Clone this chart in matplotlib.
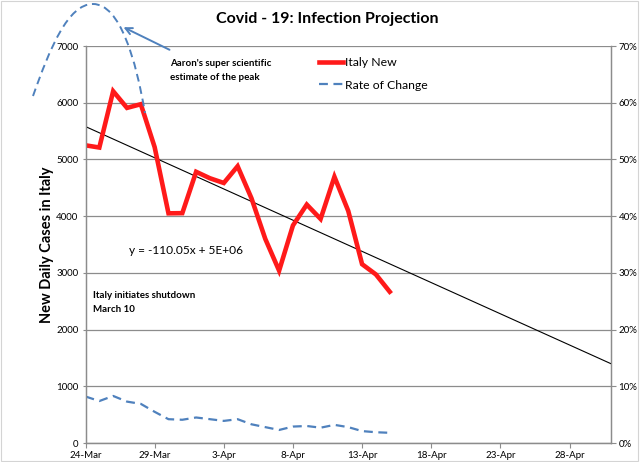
import numpy as np
import pandas as pd
import matplotlib
matplotlib.use("Agg")
import matplotlib.pyplot as plt
import matplotlib.dates as mdates
from matplotlib.path import Path
from matplotlib.patches import PathPatch, Rectangle
from matplotlib.ticker import FuncFormatter, MultipleLocator

plt.rcParams['font.family'] = ['Lato', 'DejaVu Sans']

# data
dates = pd.date_range('2020-03-24', '2020-04-15')
italy_new = [5249, 5210, 6203, 5909, 5974, 5217, 4050, 4053, 4782, 4668, 4585, 4880,
             4316, 3599, 3039, 3836, 4204, 3951, 4694, 4092, 3153, 2972, 2667]
rate_change = [0.082, 0.074, 0.083, 0.073, 0.069, 0.055, 0.042, 0.041, 0.045, 0.042, 0.039, 0.042,
               0.033, 0.028, 0.023, 0.029, 0.030, 0.027, 0.032, 0.028, 0.021, 0.019, 0.018]
trend_slope = -110.05   # from the equation printed on the chart
trend_start = 5580      # trend value read at 24-Mar
tick_dates = pd.date_range('2020-03-24', '2020-04-28', freq='5D')
x_end = pd.Timestamp('2020-05-01')

RED = '#ff1a1a'
BLUE = '#4f81bd'
GRID = '#8c8c8c'


def px(x, y):
    # pixel position on the 640x462 canvas -> figure fraction
    return (x / 640, 1 - y / 462)


fig = plt.figure(figsize=(6.4, 4.62), dpi=100)
ax = fig.add_axes([0.1336, 0.0411, 0.8211, 0.8593])
ax2 = ax.twinx()

xnum = mdates.date2num(dates)
ax.plot(xnum, italy_new, color=RED, lw=3.3, solid_joinstyle='miter', label='Italy New', zorder=4)
ax2.plot(xnum, rate_change, color=BLUE, lw=1.6, dashes=(4, 2.5), label='Rate of Change')

# linear trend, forecast to the end of the axis
tx = np.array([xnum[0], mdates.date2num(x_end)])
ax.plot(tx, trend_start + trend_slope * (tx - xnum[0]), color='black', lw=0.8, zorder=3)

ax.set_xlim(xnum[0], mdates.date2num(x_end))
ax.set_ylim(0, 7000)
ax2.set_ylim(0, 0.7)
ax.yaxis.set_major_locator(MultipleLocator(1000))
ax2.yaxis.set_major_locator(MultipleLocator(0.1))
ax2.yaxis.set_major_formatter(FuncFormatter(lambda v, p: f"{v * 100:.0f}%"))
ax.set_xticks(mdates.date2num(tick_dates))
ax.xaxis.set_major_formatter(FuncFormatter(
    lambda v, p: f"{mdates.num2date(v).day}-{mdates.num2date(v):%b}"))

ax.grid(axis='y', color=GRID, lw=0.9)
ax.set_axisbelow(True)
for a in (ax, ax2):
    a.spines['top'].set_visible(False)
    for s in ('left', 'right', 'bottom'):
        a.spines[s].set_color(GRID)
        a.spines[s].set_linewidth(0.9)
    a.tick_params(labelsize=7, color=GRID, length=3.5, pad=2)
ax.tick_params(axis='y', length=2, pad=3)
ax.set_ylabel('New Daily Cases in Italy', fontsize=10.5, fontweight='bold', labelpad=2)

fig.suptitle('Covid - 19: Infection Projection', x=0.5115, y=0.975, fontsize=11.5, fontweight='bold')

h1, l1 = ax.get_legend_handles_labels()
h2, l2 = ax2.get_legend_handles_labels()
fig.legend(h1 + h2, l1 + l2, loc='upper left', bbox_to_anchor=px(308, 46), frameon=False,
           fontsize=8.8, handlelength=2.0, handletextpad=0.15, labelspacing=0.95)

fig.text(*px(129, 250), 'y = -110.05x + 5E+06', fontsize=8.6, va='center')
fig.text(*px(93, 295), 'Italy initiates shutdown', fontsize=7, fontweight='bold', va='center')
fig.text(*px(93, 309), 'March 10', fontsize=7, fontweight='bold', va='center')
fig.text(*px(170, 64), "Aaron's super scientific", fontsize=7, fontweight='bold', va='center')
fig.text(*px(170, 78), 'estimate of the peak', fontsize=7, fontweight='bold', va='center')

# hand-drawn "peak" guess and its arrow
verts = [px(33, 96), px(50, 48), px(68, 4), px(93, 4),
         px(120, 4), px(136, 60), px(145, 113)]
codes = [Path.MOVETO] + [Path.CURVE4] * 6
fig.add_artist(PathPatch(Path(verts, codes), transform=fig.transFigure, fill=False,
                         ec=BLUE, lw=1.4, ls=(0, (4, 2.5))))
ax.annotate('', xy=px(121, 26), xytext=px(172, 51), xycoords='figure fraction',
            textcoords='figure fraction',
            arrowprops=dict(arrowstyle='->', color=BLUE, lw=1.4, mutation_scale=12))

fig.add_artist(Rectangle((0.002, 0.002), 0.995, 0.995, transform=fig.transFigure,
                         fill=False, ec='#d4d4d4', lw=0.8))

fig.savefig('out.png', dpi=100)
